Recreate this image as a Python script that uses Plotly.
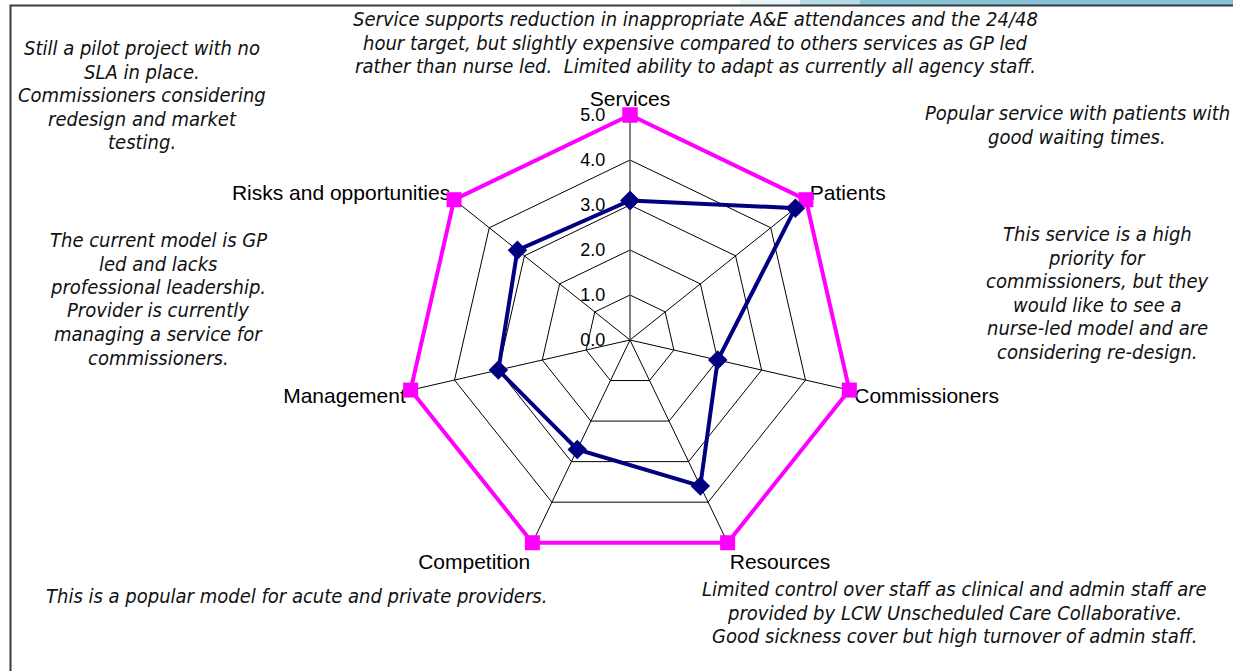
import plotly.graph_objects as go

categories = ["Services", "Patients", "Commissioners", "Resources",
              "Competition", "Management", "Risks and opportunities"]
max_scores = [5.0, 5.0, 5.0, 5.0, 5.0, 5.0, 5.0]
service_scores = [3.1, 4.7, 2.0, 3.6, 2.7, 3.0, 3.2]
radial_ticks = [0, 1, 2, 3, 4, 5]
radial_labels = [f"{v:.1f}\u2003" for v in radial_ticks]

# (lines, centre x px, first-line y px)
notes = [
    (["Service supports reduction in inappropriate A&E attendances and the 24/48",
      "hour target, but slightly expensive compared to others services as GP led",
      "rather than nurse led.  Limited ability to adapt as currently all agency staff."],
     695, 19),
    (["Still a pilot project with no", "SLA in place.", "Commissioners considering",
      "redesign and market", "testing."], 142, 48),
    (["Popular service with patients with", "good waiting times."], 1077, 113),
    (["This service is a high", "priority for", "commissioners, but they",
      "would like to see a", "nurse-led model and are", "considering re-design."], 1097, 234),
    (["The current model is GP", "led and lacks", "professional leadership.",
      "Provider is currently", "managing a service for", "commissioners."], 158, 240),
    (["This is a popular model for acute and private providers."], 296, 596),
    (["Limited control over staff as clinical and admin staff are",
      "provided by LCW Unscheduled Care Collaborative.",
      "Good sickness cover but high turnover of admin staff."], 954, 589),
]

W, H = 1233, 671
cx, cy, R5 = 630, 340, 225       # pixel radius of the 5.0 ring
RMAX = 5.1                        # small head-room so the outer series is not clipped
R = R5 * RMAX / 5.0
LINE = 23.5

theta = categories + categories[:1]

fig = go.Figure()
fig.add_trace(go.Scatterpolar(
    r=max_scores + max_scores[:1], theta=theta, mode="lines+markers",
    line=dict(color="#FF00FF", width=4), cliponaxis=False,
    marker=dict(symbol="square", size=15, color="#FF00FF"),
    showlegend=False, hoverinfo="r+theta"))
fig.add_trace(go.Scatterpolar(
    r=service_scores + service_scores[:1], theta=theta, mode="lines+markers",
    line=dict(color="#000080", width=4), cliponaxis=False,
    marker=dict(symbol="diamond", size=15, color="#000080"),
    showlegend=False, hoverinfo="r+theta"))

annotations = []
for lines, x, y0 in notes:
    for i, line in enumerate(lines):
        annotations.append(dict(
            text="<i>" + line + "</i>", x=x / W, y=1 - (y0 + i * LINE) / H,
            xref="paper", yref="paper", xanchor="center", yanchor="middle",
            showarrow=False, align="center",
            font=dict(family="DejaVu Sans Condensed, DejaVu Sans, sans-serif",
                      size=20, color="#111111")))

fig.update_layout(
    width=W, height=H,
    margin=dict(l=0, r=0, t=0, b=0),
    paper_bgcolor="white",
    polar=dict(
        domain=dict(x=[(cx - R) / W, (cx + R) / W], y=[1 - (cy + R) / H, 1 - (cy - R) / H]),
        bgcolor="white",
        gridshape="linear",
        angularaxis=dict(
            direction="clockwise", rotation=90, layer="below traces",
            tickfont=dict(family="Liberation Sans, Arial, sans-serif", size=21, color="black"),
            showline=False,
            gridcolor="black", gridwidth=1, ticks=""),
        radialaxis=dict(
            range=[0, RMAX], tickvals=radial_ticks, ticktext=radial_labels, angle=90,
            tickangle=90, side="counterclockwise", layer="below traces",
            tickfont=dict(family="Liberation Sans, Arial, sans-serif", size=18, color="black"),
            showline=True, linecolor="#808080", linewidth=1,
            gridcolor="black", gridwidth=1, ticks=""),
    ),
    annotations=annotations,
    shapes=[
        dict(type="rect", xref="paper", yref="paper", x0=740 / W, x1=800 / W,
             y0=1 - 5 / H, y1=1.0, fillcolor="#e6f3f7", line=dict(width=0), layer="below"),
        dict(type="rect", xref="paper", yref="paper", x0=800 / W, x1=860 / W,
             y0=1 - 5 / H, y1=1.0, fillcolor="#b5dbe7", line=dict(width=0), layer="below"),
        dict(type="rect", xref="paper", yref="paper", x0=860 / W, x1=1.0,
             y0=1 - 5 / H, y1=1.0, fillcolor="#86c3d6", line=dict(width=0), layer="below"),
        dict(type="rect", xref="paper", yref="paper", x0=10.5 / W, x1=1.02,
             y0=-0.02, y1=1 - 5.5 / H, line=dict(color="#3a3a3a", width=2),
             fillcolor="rgba(0,0,0,0)", layer="below"),
    ],
)

fig.write_html("out.html", config={"displayModeBar": False},
               post_script="document.body.style.margin='0';")
